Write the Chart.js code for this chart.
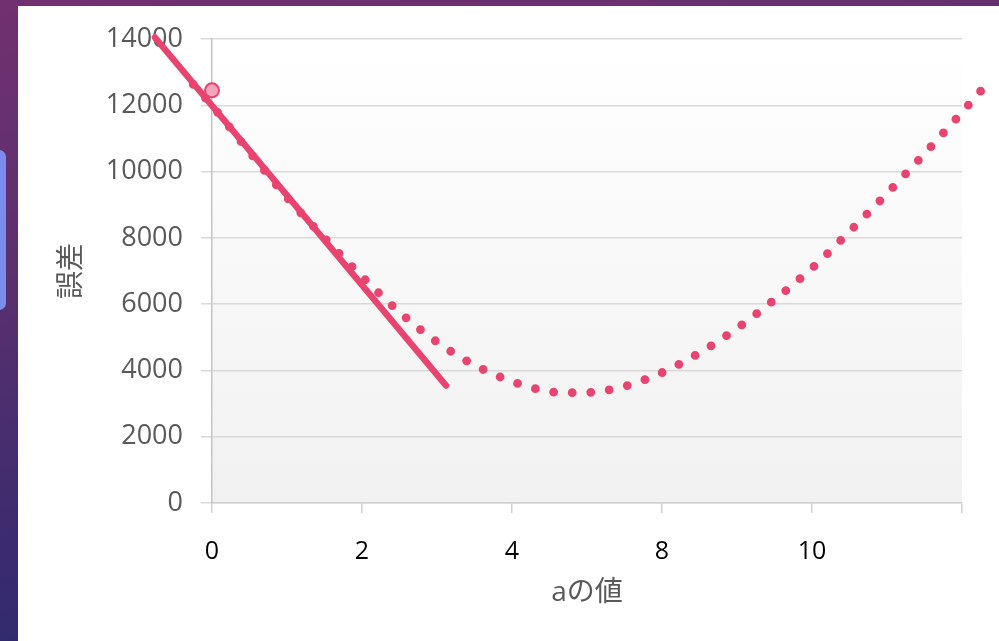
<!DOCTYPE html>
<html lang="ja">
<head>
<meta charset="utf-8">
<title>aの値と誤差</title>
<script src="https://cdn.jsdelivr.net/npm/chart.js@4/dist/chart.umd.min.js"></script>
<style>
  html, body { margin: 0; padding: 0; }
  body {
    width: 999px; height: 641px; overflow: hidden; position: relative;
    background: linear-gradient(172deg, #72306f 0%, #5a306f 35%, #3b2b6e 70%, #222a6b 100%);
  }
  #panel { position: absolute; left: 18px; top: 6px; right: 0; bottom: 0; background: #ffffff; }
  #tab { position: absolute; left: -8px; top: 150px; width: 14px; height: 160px; border-radius: 7px; background: #7b8dec; }
  #chart { position: absolute; left: 0; top: 0; }
</style>
</head>
<body>
<div id="tab"></div>
<div id="panel"></div>
<canvas id="chart" width="999" height="641"></canvas>
<script>
// error curve as a function of a
const aValues = [-0.25, 0, 0.5, 1, 1.5, 2, 2.5, 3, 3.5, 4, 4.5, 4.75, 5, 5.5, 6, 6.5, 7, 7.5, 8, 8.5, 9, 9.5, 10, 10.29];
const errorValues = [12630, 11990, 10590, 9220, 7995, 6830, 5760, 4858, 4160, 3666, 3362, 3330, 3334, 3520, 3935, 4530, 5270, 6135, 7085, 8190, 9340, 10540, 11790, 12536];

// tangent line at the starting point
const tangentA = [-0.76, 3.12];
const tangentValues = [14045, 3545];

// starting point marker
const startA = [0];
const startValues = [12450];

// axis ticks
const xTickValues = [0, 2, 4, 6, 8, 10];
const xTickLabels = ['0', '2', '4', '8', '10', ''];
const yTickValues = [0, 2000, 4000, 6000, 8000, 10000, 12000, 14000];

const PINK = '#e9446f';
const toPoints = (xs, ys) => xs.map((x, i) => ({ x: x, y: ys[i] }));

// soft white-to-grey fill behind the plot area
const plotBackground = {
  id: 'plotBackground',
  beforeDraw(chart) {
    const { ctx, chartArea: a } = chart;
    const g = ctx.createLinearGradient(0, a.top, 0, a.bottom);
    g.addColorStop(0, '#ffffff');
    g.addColorStop(1, '#f1f1f1');
    ctx.save();
    ctx.fillStyle = g;
    ctx.fillRect(a.left, a.top, a.right - a.left, a.bottom - a.top);
    ctx.restore();
  }
};

new Chart(document.getElementById('chart'), {
  type: 'scatter',
  data: {
    datasets: [
      {
        data: toPoints(startA, startValues),
        pointRadius: 7,
        pointBackgroundColor: '#f3a5ba',
        pointBorderColor: PINK,
        pointBorderWidth: 2,
        clip: false,
        order: 0
      },
      {
        data: toPoints(tangentA, tangentValues),
        showLine: true,
        borderColor: PINK,
        borderWidth: 6.5,
        borderCapStyle: 'round',
        pointRadius: 0,
        clip: false,
        order: 1
      },
      {
        data: toPoints(aValues, errorValues),
        showLine: true,
        borderColor: PINK,
        borderWidth: 8.8,
        borderCapStyle: 'round',
        borderDash: [0, 18.6],
        cubicInterpolationMode: 'monotone',
        pointRadius: 0,
        clip: false,
        order: 2
      }
    ]
  },
  options: {
    responsive: false,
    devicePixelRatio: 1,
    animation: false,
    events: [],
    layout: { padding: { left: 0, right: 37, top: 39, bottom: 0 } },
    plugins: { legend: { display: false }, tooltip: { enabled: false } },
    scales: {
      x: {
        type: 'linear',
        bounds: 'data',
        // range fixed after the data limits so the curve keeps its points past the last tick
        afterDataLimits(scale) { scale.min = 0; scale.max = 10; },
        afterBuildTicks(scale) { scale.ticks = xTickValues.map(v => ({ value: v })); },
        afterFit(scale) { scale.height = 138; },
        grid: { drawOnChartArea: false, drawTicks: true, tickLength: 10, color: '#d0d0d0', lineWidth: 1.5 },
        border: { color: '#d0d0d0', width: 1.5 },
        ticks: {
          padding: 24,
          color: '#000000',
          font: { family: 'Open Sans', size: 25 },
          maxRotation: 0,
          autoSkip: false,
          callback: (v, i) => xTickLabels[i]
        },
        title: {
          display: true,
          text: 'aの値',
          color: '#595959',
          font: { family: "'Open Sans', 'Noto Sans CJK JP'", size: 28 },
          padding: { top: 0, bottom: 31 }
        }
      },
      y: {
        type: 'linear',
        min: 0,
        max: 14000,
        afterBuildTicks(scale) { scale.ticks = yTickValues.map(v => ({ value: v })); },
        afterFit(scale) { scale.width = 212; },
        grid: { drawTicks: true, tickLength: 11, color: '#d9d9d9', lineWidth: 1.5 },
        border: { color: '#c4c4c4', width: 1.5 },
        ticks: {
          padding: 18,
          color: '#595959',
          font: { family: 'Open Sans', size: 27 },
          callback: v => String(v)
        },
        title: {
          display: true,
          text: '誤差',
          color: '#595959',
          font: { family: "'Noto Sans CJK JP'", size: 28 },
          padding: { top: 53, bottom: 0 }
        }
      }
    }
  },
  plugins: [plotBackground]
});
</script>
</body>
</html>
